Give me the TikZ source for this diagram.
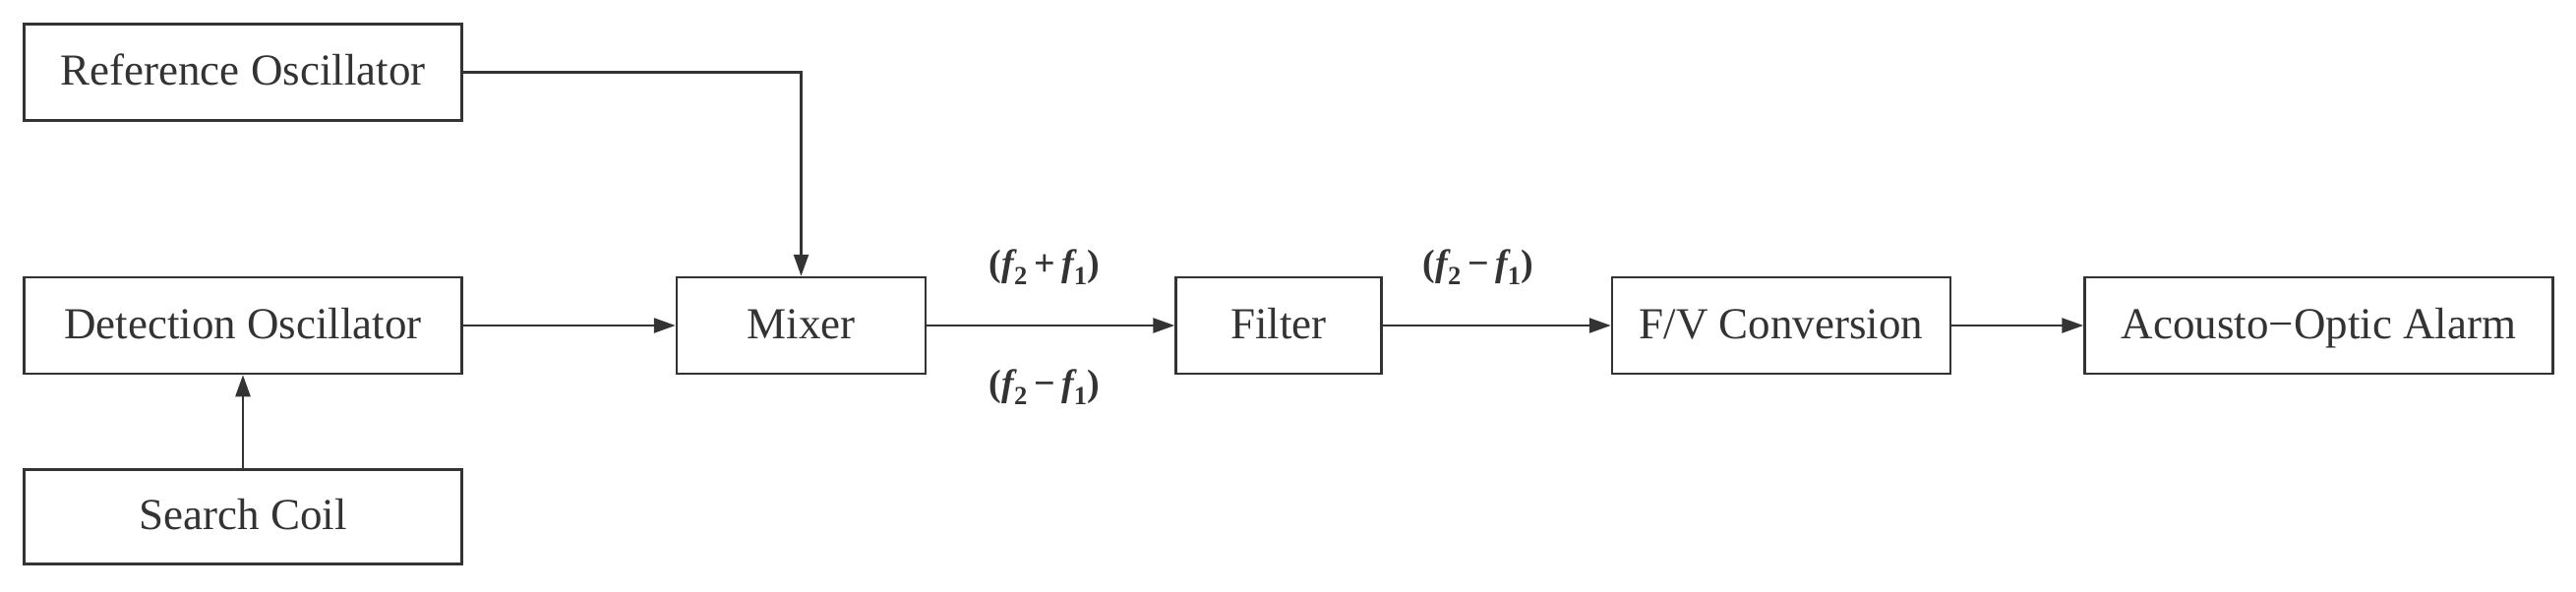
\documentclass[tikz,border=0pt]{standalone}
\usepackage{fontspec}
\setmainfont{Liberation Serif}
\usepackage{tikz}
\usetikzlibrary{arrows.meta,positioning}
\definecolor{linegray}{HTML}{333333}
\newcommand{\fr}[1]{{\itshape f}\textsubscript{#1}}

\begin{document}
\begin{tikzpicture}[x=1pt,y=1pt,
    every node/.style={font=\fontsize{45}{54}\selectfont, text=linegray},
    block/.style={draw=linegray, line width=2.5pt, minimum height=98pt, inner sep=0pt,
      text height=31pt, text depth=5pt},
    flow/.style={draw=linegray, line width=2.5pt, -{Triangle[length=22pt,width=15pt]}},
    freq/.style={font=\fontsize{38}{46}\selectfont\bfseries}]
  \useasboundingbox (0,0) rectangle (2619,-602);
  \node [block, minimum width=445pt] (det) at (247,-331) {Detection Oscillator};
  \node [block, minimum width=445pt, above=157pt of det] (ref) {Reference Oscillator};
  \node [block, minimum width=445pt, minimum height=96pt, below=95pt of det] (coil) {Search Coil};
  \node [block, minimum width=253pt, right=216pt of det] (mix) {Mixer};
  \node [block, minimum width=209pt, right=252pt of mix] (filt) {Filter};
  \node [block, minimum width=344pt, right=232pt of filt] (fv) {F/V Conversion};
  \node [block, minimum width=476pt, right=134pt of fv] (alarm) {Acousto−Optic Alarm};
  % labels on the mixer output
  \node [freq] (sum) at (1062,-272) {(\fr{2}\,+\,\fr{1})};
  \node [freq] (diffa) at (1062,-394) {(\fr{2}\,−\,\fr{1})};
  \node [freq] (diffb) at (1503,-272) {(\fr{2}\,−\,\fr{1})};
  % connections
  \draw [flow] (ref.east) -| (mix.north);
  \draw [flow] (det) -- (mix);
  \draw [flow] (coil) -- (det);
  \draw [flow] (mix) -- (filt);
  \draw [flow] (filt) -- (fv);
  \draw [flow] (fv) -- (alarm);
\end{tikzpicture}
\end{document}
